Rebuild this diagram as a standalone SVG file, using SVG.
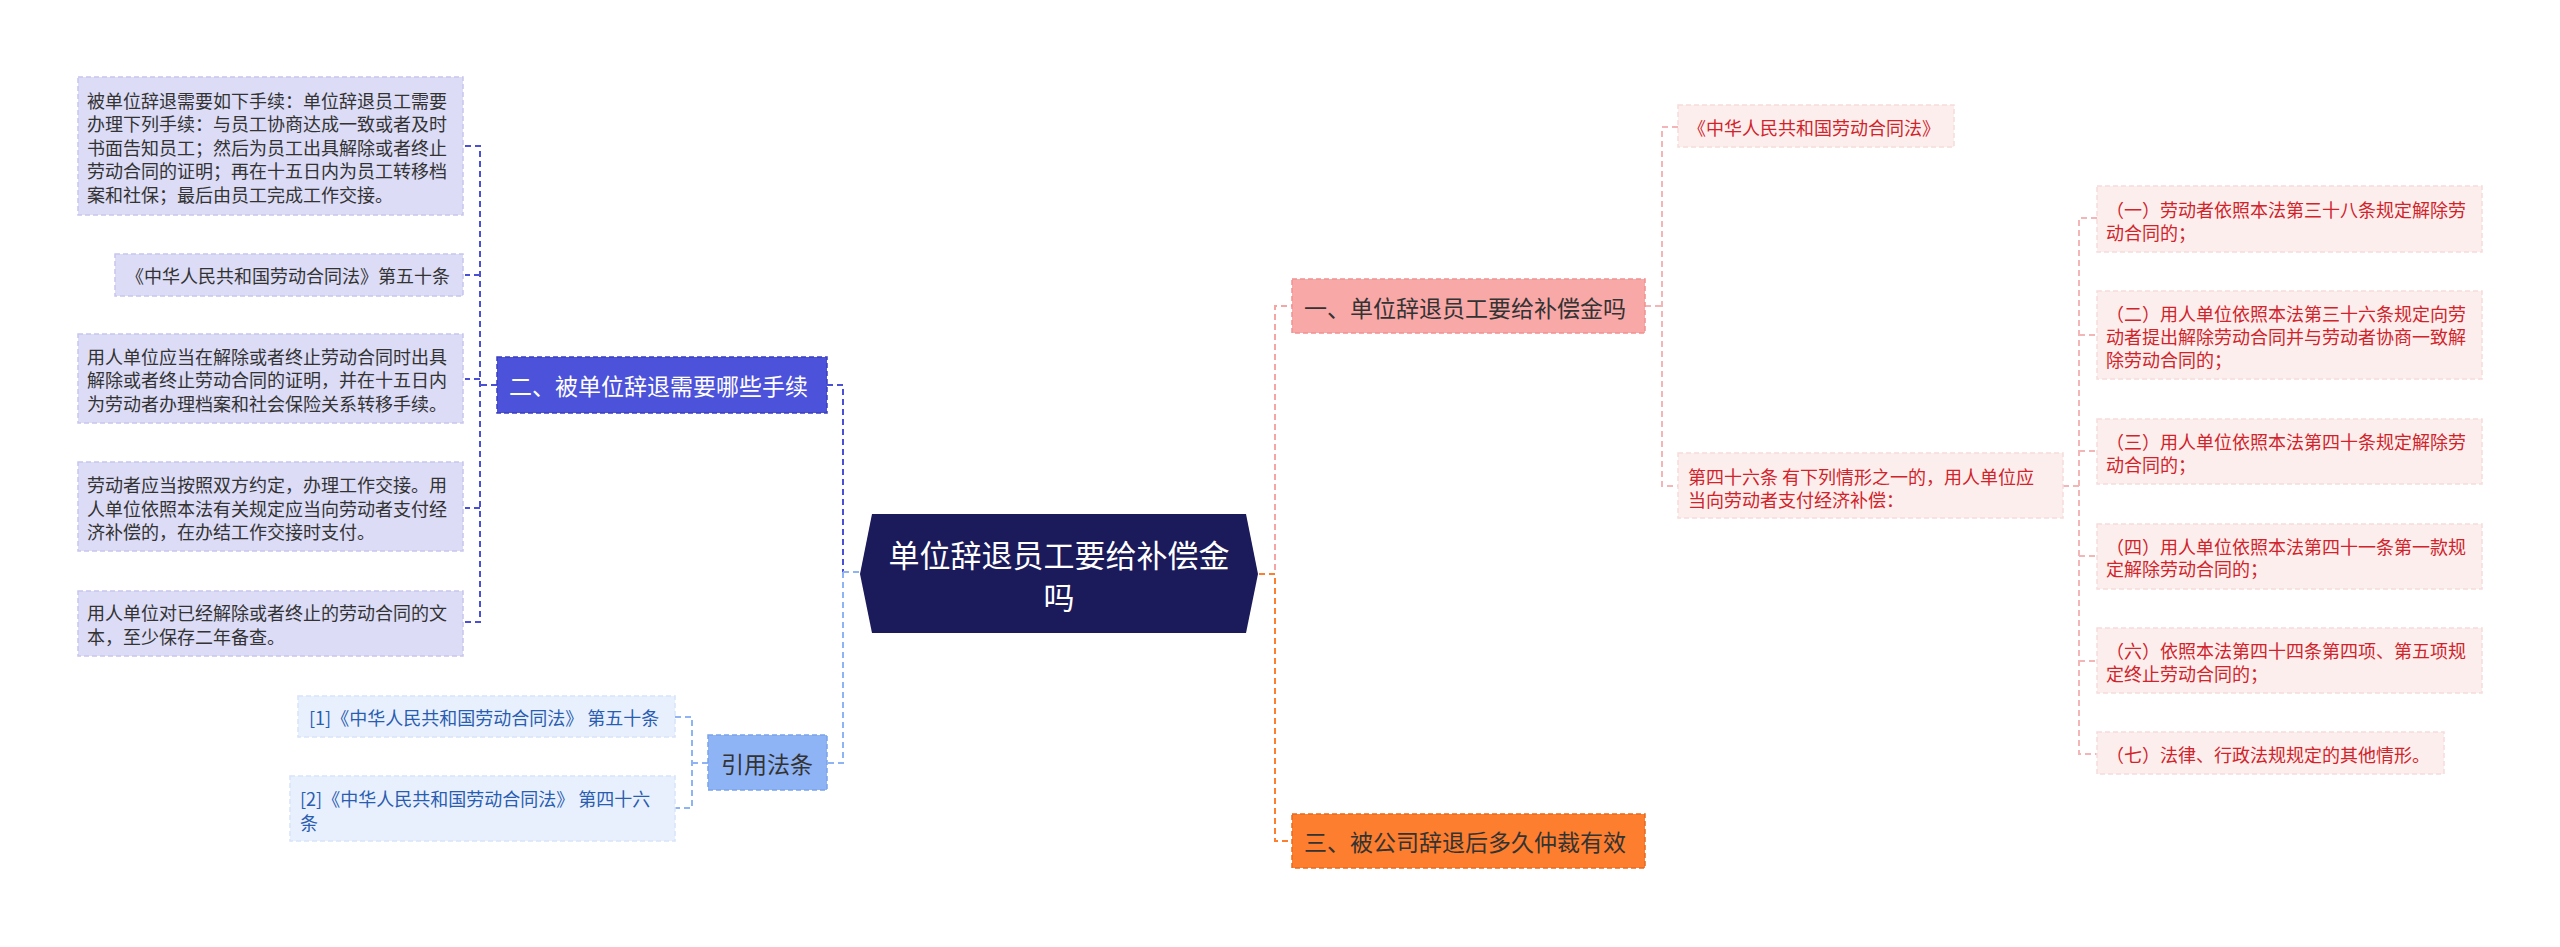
<svg xmlns="http://www.w3.org/2000/svg" width="2560" height="947" viewBox="0 0 2560 947">
<style>
text{font-family:"Noto Sans CJK SC","Noto Sans",sans-serif;dominant-baseline:central}
.s{font-size:18px}
.lv{fill:#dcdcf6;stroke:#c6c6ee;stroke-width:1.5;stroke-dasharray:5 3}
.lt{fill:#333}
.pk{fill:#fdeeee;stroke:#f8dcdc;stroke-width:1.5;stroke-dasharray:5 3}
.pt{fill:#d0242a}
.rf{fill:#e8f0fd;stroke:#d6e3fa;stroke-width:1.5;stroke-dasharray:5 3}
.rt{fill:#2a5db0}
.c{fill:none;stroke-width:2;stroke-dasharray:6 4}
</style>
<rect width="2560" height="947" fill="#fff"/>
<g id="connectors">
<path class="c" stroke="#4a4fd8" d="M465 146H480V622H465M480 275H465M480 379H465M480 508H465M497 385H480"/>
<path class="c" stroke="#4a4fd8" d="M827 385H843V572"/>
<path class="c" stroke="#8fb4f5" d="M843 572V763H827M843 572H860"/>
<path class="c" stroke="#8fb4f5" d="M675 717H692V808H675M708 763H692"/>
<path class="c" stroke="#f6a5a5" d="M1259 574H1275V306H1292"/>
<path class="c" stroke="#fd7e2e" d="M1259 574H1275V841H1292"/>
<path class="c" stroke="#f3b5b5" d="M1645 306H1662M1678 127H1662V486H1678"/>
<path class="c" stroke="#f3b5b5" d="M2063 486H2079M2097 218H2079V754H2097M2079 335H2097M2079 451H2097M2079 556H2097M2079 661H2097"/>
</g>
<g id="center">
<polygon points="872,514 1246,514 1258,574 1246,633 872,633 860,574" fill="#1b1a5a"/>
<text x="1059" y="553" font-size="31" fill="#fff" text-anchor="middle">单位辞退员工要给补偿金</text>
<text x="1059" y="595" font-size="31" fill="#fff" text-anchor="middle">吗</text>
</g>
<g id="n2">
<rect x="497" y="357" width="330" height="56" fill="#4c52d9" stroke="#3a3fc0" stroke-width="1.5" stroke-dasharray="5 3"/>
<text x="509" y="385" font-size="23" fill="#fff">二、被单位辞退需要哪些手续</text>
</g>
<g id="l1"><rect class="lv" x="78" y="77" width="385" height="138"/>
<text class="s lt" x="87" y="100">被单位辞退需要如下手续：单位辞退员工需要</text>
<text class="s lt" x="87" y="123">办理下列手续：与员工协商达成一致或者及时</text>
<text class="s lt" x="87" y="147">书面告知员工；然后为员工出具解除或者终止</text>
<text class="s lt" x="87" y="170">劳动合同的证明；再在十五日内为员工转移档</text>
<text class="s lt" x="87" y="194">案和社保；最后由员工完成工作交接。</text></g>
<g id="l2"><rect class="lv" x="115" y="254" width="348" height="42"/>
<text class="s lt" x="126" y="275">《中华人民共和国劳动合同法》第五十条</text></g>
<g id="l3"><rect class="lv" x="78" y="334" width="385" height="89"/>
<text class="s lt" x="87" y="356">用人单位应当在解除或者终止劳动合同时出具</text>
<text class="s lt" x="87" y="379">解除或者终止劳动合同的证明，并在十五日内</text>
<text class="s lt" x="87" y="403">为劳动者办理档案和社会保险关系转移手续。</text></g>
<g id="l4"><rect class="lv" x="78" y="462" width="385" height="89"/>
<text class="s lt" x="87" y="484">劳动者应当按照双方约定，办理工作交接。用</text>
<text class="s lt" x="87" y="508">人单位依照本法有关规定应当向劳动者支付经</text>
<text class="s lt" x="87" y="531">济补偿的，在办结工作交接时支付。</text></g>
<g id="l5"><rect class="lv" x="78" y="591" width="385" height="65"/>
<text class="s lt" x="87" y="612">用人单位对已经解除或者终止的劳动合同的文</text>
<text class="s lt" x="87" y="636">本，至少保存二年备查。</text></g>
<g id="ref"><rect x="708" y="735" width="119" height="55" fill="#8fb4f5" stroke="#7aa3ea" stroke-width="1.5" stroke-dasharray="5 3"/>
<text x="767" y="763" font-size="23" fill="#333" text-anchor="middle">引用法条</text></g>
<g id="r1"><rect class="rf" x="298" y="696" width="377" height="41"/>
<text class="s rt" x="309" y="717">[1]《中华人民共和国劳动合同法》 第五十条</text></g>
<g id="r2"><rect class="rf" x="290" y="776" width="385" height="65"/>
<text class="s rt" x="300" y="798">[2]《中华人民共和国劳动合同法》 第四十六</text>
<text class="s rt" x="300" y="822">条</text></g>
<g id="n1"><rect x="1292" y="279" width="353" height="54" fill="#f9a8a8" stroke="#f09090" stroke-width="1.5" stroke-dasharray="5 3"/>
<text x="1304" y="307" font-size="23" fill="#333">一、单位辞退员工要给补偿金吗</text></g>
<g id="n3"><rect x="1292" y="814" width="353" height="54" fill="#fd7e2e" stroke="#e86a1c" stroke-width="1.5" stroke-dasharray="5 3"/>
<text x="1304" y="841" font-size="23" fill="#333">三、被公司辞退后多久仲裁有效</text></g>
<g id="p1"><rect class="pk" x="1678" y="105" width="276" height="42"/>
<text class="s pt" x="1688" y="127">《中华人民共和国劳动合同法》</text></g>
<g id="p2"><rect class="pk" x="1678" y="453" width="385" height="65"/>
<text class="s pt" x="1688" y="476">第四十六条 有下列情形之一的，用人单位应</text>
<text class="s pt" x="1688" y="499">当向劳动者支付经济补偿：</text></g>
<g id="q1"><rect class="pk" x="2097" y="186" width="385" height="66"/>
<text class="s pt" x="2106" y="209">（一）劳动者依照本法第三十八条规定解除劳</text>
<text class="s pt" x="2106" y="232">动合同的；</text></g>
<g id="q2"><rect class="pk" x="2097" y="291" width="385" height="88"/>
<text class="s pt" x="2106" y="313">（二）用人单位依照本法第三十六条规定向劳</text>
<text class="s pt" x="2106" y="336">动者提出解除劳动合同并与劳动者协商一致解</text>
<text class="s pt" x="2106" y="359">除劳动合同的；</text></g>
<g id="q3"><rect class="pk" x="2097" y="419" width="385" height="65"/>
<text class="s pt" x="2106" y="441">（三）用人单位依照本法第四十条规定解除劳</text>
<text class="s pt" x="2106" y="464">动合同的；</text></g>
<g id="q4"><rect class="pk" x="2097" y="524" width="385" height="65"/>
<text class="s pt" x="2106" y="546">（四）用人单位依照本法第四十一条第一款规</text>
<text class="s pt" x="2106" y="568">定解除劳动合同的；</text></g>
<g id="q6"><rect class="pk" x="2097" y="628" width="385" height="65"/>
<text class="s pt" x="2106" y="650">（六）依照本法第四十四条第四项、第五项规</text>
<text class="s pt" x="2106" y="673">定终止劳动合同的；</text></g>
<g id="q7"><rect class="pk" x="2097" y="732" width="347" height="42"/>
<text class="s pt" x="2106" y="754">（七）法律、行政法规规定的其他情形。</text></g>
</svg>
